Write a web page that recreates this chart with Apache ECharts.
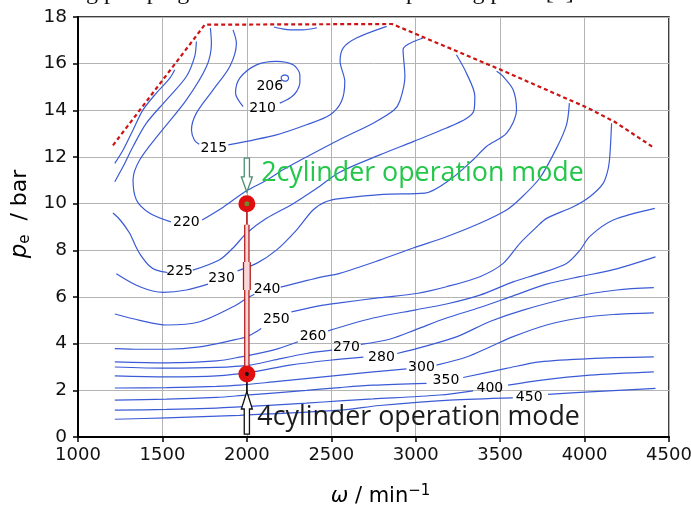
<!DOCTYPE html>
<html>
<head>
<meta charset="utf-8">
<script src="https://cdn.jsdelivr.net/npm/echarts@6/dist/echarts.min.js"></script>
<style>
  html, body { margin: 0; padding: 0; background: #fff; }
  #container { width: 691px; height: 506px; }
</style>
</head>
<body>
<div id="container"></div>
<script>
  // axes
  const xMin = 1000, xMax = 4500, xStep = 500;
  const yMin = 0, yMax = 18, yStep = 2;

  // contour lines (speed, pe) - split where the value label sits
  const c206Arc = [[2160,17.57],[2210,17.49],[2260,17.45],[2330,17.45],[2415,17.54]];
  const c206Loop = [[2225,15.52],[2240,15.48],[2247,15.38],[2240,15.28],[2225,15.25],[2210,15.29],[2203,15.39],[2210,15.48],[2225,15.52]];
  const c210 = [[2195,14.31],[2260,14.55],[2294,14.8],[2314,15.2],[2314,15.52],[2274,15.95],[2175,16.1],[2057,15.95],[1958,15.38],[1933,14.74],[1978,14.16]];
  const c215L = [[1918,17.45],[1938,16.88],[1899,15.88],[1800,14.88],[1701,13.88],[1672,13.16],[1690,12.72],[1718,12.55]];
  const c215R = [[1890,12.52],[2175,12.95],[2353,13.38],[2491,13.8],[2560,14.38],[2580,15.24],[2552,16.1],[2570,16.67],[2649,17.1],[2828,17.6]];
  const c220L = [[1784,17.53],[1790,16.88],[1761,15.88],[1642,14.45],[1484,13.02],[1366,11.88],[1326,11.02],[1346,10.16],[1425,9.59],[1550,9.22]];
  const c220R = [[1735,9.3],[1860,9.85],[1998,10.55],[2116,11.0],[2214,11.45],[2353,12.0],[2550,12.75],[2748,13.45],[2870,14.0],[2906,14.4],[2936,15.45],[2925,16.6],[3044,17.1]];
  const c225L = [[1207,9.6],[1250,9.3],[1306,8.73],[1340,8.2],[1366,7.85],[1420,7.35],[1464,7.15],[1530,7.05]];
  const c225R = [[1680,7.15],[1839,7.6],[1918,8.1],[1998,8.73],[2116,9.37],[2274,10.0],[2412,10.65],[2550,11.35],[2787,12.09],[2985,12.66],[3182,13.24],[3300,13.65],[3345,14.0],[3350,14.6],[3300,15.6],[3241,16.38]];
  const c230L = [[1227,7.0],[1366,6.44],[1504,6.2],[1642,6.3],[1770,6.55]];
  const c230R = [[1945,7.12],[2057,7.44],[2175,8.01],[2294,8.87],[2392,9.73],[2471,10.09],[2550,10.22],[2807,10.4],[3054,10.45],[3202,11.02],[3340,11.88],[3419,12.45],[3538,13.02],[3597,14.02],[3577,14.88],[3518,15.45],[3479,15.67]];
  const c240L = [[1218,5.27],[1366,5.0],[1524,4.8],[1721,4.94],[1918,5.58],[2007,5.98],[2045,6.12]];
  const c240R = [[2200,6.42],[2452,6.87],[2550,7.01],[2787,7.58],[2985,8.1],[3182,8.58],[3380,9.16],[3538,9.73],[3617,10.2],[3735,11.1],[3834,12.38],[3893,13.38],[3910,14.31]];
  const c250L = [[1218,3.79],[1366,3.76],[1524,3.76],[1721,3.86],[1918,4.15],[2007,4.32],[2085,4.65]];
  const c250R = [[2264,5.36],[2452,5.65],[2550,5.75],[2787,5.97],[3005,6.15],[3182,6.44],[3380,6.87],[3518,7.44],[3617,8.3],[3716,9.0],[3775,9.37],[3933,9.87],[4031,10.3],[4110,10.87],[4140,11.5],[4150,12.09],[4160,13.45]];
  const c260L = [[1218,3.22],[1524,3.18],[1820,3.26],[1956,3.42],[2155,3.72],[2303,4.08]];
  const c260R = [[2481,4.55],[2748,5.1],[3000,5.45],[3182,5.7],[3380,6.08],[3577,6.65],[3735,7.01],[3893,7.44],[3972,8.0],[4031,8.6],[4170,9.3],[4416,9.8]];
  const c270L = [[1218,3.0],[1524,2.95],[1820,2.98],[2017,3.08],[2155,3.29],[2353,3.58],[2505,3.72]];
  const c270R = [[2675,3.97],[2850,4.2],[3000,4.6],[3182,5.1],[3380,5.55],[3577,6.05],[3775,6.55],[3972,6.87],[4170,7.17],[4420,7.72]];
  const c280L = [[1218,2.62],[1524,2.58],[1820,2.62],[2036,2.79],[2254,3.08],[2490,3.29],[2690,3.42]];
  const c280R = [[2890,3.58],[3005,3.79],[3241,4.29],[3439,4.95],[3636,5.44],[3933,6.0],[4190,6.3],[4410,6.4]];
  const c300L = [[1218,2.1],[1524,2.12],[1820,2.17],[1956,2.22],[2155,2.36],[2452,2.58],[2748,2.79],[2945,2.92]];
  const c300R = [[3123,3.08],[3301,3.43],[3439,3.86],[3577,4.3],[3775,4.8],[3972,5.1],[4170,5.25],[4410,5.32]];
  const c350L = [[1218,1.58],[1524,1.62],[1820,1.7],[1956,1.77],[2353,2.0],[2550,2.12],[2748,2.22],[3064,2.3]];
  const c350R = [[3281,2.55],[3537,2.94],[3735,3.22],[4031,3.36],[4410,3.43]];
  const c400L = [[1218,1.15],[1524,1.18],[1820,1.24],[1956,1.29],[2353,1.45],[2550,1.55],[2748,1.63],[3143,1.8],[3340,1.98]];
  const c400R = [[3547,2.22],[3735,2.43],[4031,2.65],[4410,2.79]];
  const c450L = [[1218,0.76],[1524,0.82],[1956,0.93],[2550,1.15],[2787,1.35],[3202,1.58],[3575,1.68]];
  const c450R = [[3784,1.83],[4031,1.93],[4420,2.08]];
  const cEdge1 = [[1573,15.74],[1544,15.38],[1464,14.74],[1385,14.02],[1326,13.16],[1267,12.3],[1218,11.73]];
  const cEdge2 = [[1701,16.95],[1691,16.31],[1642,15.45],[1524,14.45],[1405,13.45],[1326,12.45],[1267,11.59],[1218,10.94]];

  // full load line
  const fullLoad = [[1207,12.5],[1751,17.67],[2860,17.7],[3500,15.75],[4020,14.1],[4180,13.5],[4410,12.4]];

  // contour value labels [speed, pe, text]
  const contourLabels = [
    [2136,15.02,'206'],[2093,14.09,'210'],[1804,12.38,'215'],[1642,9.18,'220'],
    [1602,7.08,'225'],[1850,6.8,'230'],[2120,6.33,'240'],[2175,5.05,'250'],
    [2392,4.32,'260'],[2590,3.84,'270'],[2797,3.41,'280'],[3034,3.0,'300'],
    [3179,2.43,'350'],[3439,2.1,'400'],[3672,1.69,'450']
  ];

  // operating points and switch
  const point2cyl = [2000, 10.0];
  const point4cyl = [2000, 2.7];
  const switchBar = [[2000,2.7],[2000,9.1]];
  const switchBarWide = [[2000,6.3],[2000,7.5]];
  const switchThin = [[2000,9.1],[2000,10.0]];
  const tipLine4 = [[2000,1.9],[2000,2.5]];
  // arrows: [speed, tail pe, head base pe, tip pe]
  const arrow2cyl = [[2000,11.95,11.15,10.5]];
  const arrow4cyl = [[2000,0.12,1.2,1.95]];
  const text2cyl = [[2085,11.28,'2cylinder operation mode']];
  const text4cyl = [[2062,0.82,'4cylinder operation mode']];

  const contours = [c206Arc,c206Loop,c210,c215L,c215R,c220L,c220R,c225L,c225R,c230L,c230R,
    c240L,c240R,c250L,c250R,c260L,c260R,c270L,c270R,c280L,c280R,c300L,c300R,
    c350L,c350R,c400L,c400R,c450L,c450R,cEdge1,cEdge2];

  let myChart = echarts.init(document.getElementById('container'));

  function arrowRender(stroke) {
    return function (params, api) {
      let x = api.value(0);
      let pT = api.coord([x, api.value(1)]);
      let pB = api.coord([x, api.value(2)]);
      let pH = api.coord([x, api.value(3)]);
      let w = 2.6, h = 5.5;
      return {
        type: 'polygon',
        shape: {
          points: [[pT[0]-w,pT[1]],[pB[0]-w,pB[1]],[pB[0]-h,pB[1]],[pH[0],pH[1]],
                   [pB[0]+h,pB[1]],[pB[0]+w,pB[1]],[pT[0]+w,pT[1]]]
        },
        style: { fill: '#fff', stroke: stroke, lineWidth: 1.3 }
      };
    };
  }

  let series = [];
  contours.forEach(function (c) {
    series.push({
      type: 'line', data: c, symbol: 'none', smooth: 0.3, silent: true, z: 2,
      lineStyle: { color: '#3b5bd6', width: 1.2 }
    });
  });
  series.push({
    type: 'line', data: fullLoad, symbol: 'none', silent: true, z: 3,
    lineStyle: { color: '#cc1414', width: 2.2, type: [4, 3] }
  });
  series.push({
    type: 'scatter', data: contourLabels, symbolSize: 0, silent: true, z: 4,
    itemStyle: { opacity: 1 },
    label: {
      show: true, position: 'inside', color: '#000',
      fontFamily: 'DejaVu Sans', fontSize: 14,
      formatter: function (p) { return p.data[2]; }
    }
  });
  // switching bar between the two operating points
  series.push({ type: 'line', data: switchThin, symbol: 'none', silent: true, z: 5,
    lineStyle: { color: '#b01818', width: 1.5 } });
  series.push({ type: 'line', data: switchBar, symbol: 'none', silent: true, z: 5,
    lineStyle: { color: '#b01818', width: 5.5 } });
  series.push({ type: 'line', data: switchBarWide, symbol: 'none', silent: true, z: 5,
    lineStyle: { color: '#b01818', width: 8 } });
  series.push({ type: 'line', data: switchBar, symbol: 'none', silent: true, z: 6,
    lineStyle: { color: '#f6d6d6', width: 3 } });
  series.push({ type: 'line', data: switchBarWide, symbol: 'none', silent: true, z: 6,
    lineStyle: { color: '#f6d6d6', width: 5.5 } });
  series.push({ type: 'line', data: tipLine4, symbol: 'none', silent: true, z: 6,
    lineStyle: { color: '#000', width: 1.5 } });
  series.push({ type: 'custom', data: arrow2cyl, renderItem: arrowRender('#4e8f73'), silent: true, z: 7 });
  series.push({ type: 'custom', data: arrow4cyl, renderItem: arrowRender('#111'), silent: true, z: 7 });
  series.push({ type: 'scatter', data: [point2cyl, point4cyl], symbolSize: 17, silent: true, z: 8,
    itemStyle: { color: '#e00e0e', opacity: 1 } });
  series.push({ type: 'scatter', data: [point2cyl], symbolSize: 5, silent: true, z: 9,
    itemStyle: { color: '#6f8a2c', opacity: 1 } });
  series.push({ type: 'scatter', data: [point4cyl], symbolSize: 4, silent: true, z: 9,
    itemStyle: { color: '#111', opacity: 1 } });
  series.push({
    type: 'scatter', data: text2cyl, symbolSize: 0, silent: true, z: 10,
    itemStyle: { opacity: 1 },
    label: { show: true, position: 'right', distance: 0, color: '#22c74a',
      fontFamily: 'Open Sans', fontSize: 26.8,
      formatter: function (p) { return p.data[2]; } }
  });
  series.push({
    type: 'scatter', data: text4cyl, symbolSize: 0, silent: true, z: 10,
    itemStyle: { opacity: 1 },
    label: { show: true, position: 'right', distance: 0, color: '#1c1c1c',
      fontFamily: 'Open Sans', fontSize: 26.8,
      formatter: function (p) { return p.data[2]; } }
  });

  let option = {
    animation: false,
    backgroundColor: '#fff',
    grid: { left: 78, right: 22, top: 17, bottom: 69, show: true, outerBoundsMode: 'none',
      borderColor: '#000', borderWidth: 1.5 },
    graphic: [{
      type: 'text', left: 14, top: -19, silent: true,
      style: { text: 'reducing pumping loss and achieve the operating point [1] as follows:',
        font: '24px "Liberation Serif"', fill: '#111' }
    }],
    xAxis: {
      type: 'value', min: xMin, max: xMax, interval: xStep,
      name: '{it|ω} / min{sup|−1}', nameLocation: 'middle', nameGap: 47,
      nameTextStyle: { fontFamily: 'DejaVu Sans', fontSize: 21, color: '#000', padding: [0, 0, 0, 14],
        rich: {
          it: { fontFamily: 'DejaVu Sans', fontSize: 21, fontStyle: 'italic', color: '#000' },
          sup: { fontFamily: 'DejaVu Sans', fontSize: 15, verticalAlign: 'top', color: '#000', padding: [0, 0, 10, 0] }
        } },
      axisLine: { lineStyle: { color: '#000', width: 2 } },
      axisTick: { length: 5, lineStyle: { color: '#000', width: 1.5 } },
      axisLabel: { fontFamily: 'DejaVu Sans', fontSize: 18, color: '#111', margin: 9,
        formatter: function (v) { return String(v); } },
      splitLine: { lineStyle: { color: '#b4b4b4', width: 1 } }
    },
    yAxis: {
      type: 'value', min: yMin, max: yMax, interval: yStep,
      name: '{it|p}{sub|e}  / bar', nameLocation: 'middle', nameGap: 38, nameRotate: 90,
      nameTextStyle: { fontFamily: 'DejaVu Sans', fontSize: 22, color: '#000', padding: [0, 0, 0, 26],
        rich: {
          it: { fontFamily: 'DejaVu Sans', fontSize: 23, fontStyle: 'italic', color: '#000' },
          sub: { fontFamily: 'DejaVu Sans', fontSize: 15, verticalAlign: 'bottom', color: '#000', padding: [10, 0, 0, 0] }
        } },
      axisLine: { lineStyle: { color: '#000', width: 2 } },
      axisTick: { length: 5, lineStyle: { color: '#000', width: 1.5 } },
      axisLabel: { fontFamily: 'DejaVu Sans', fontSize: 18.5, color: '#111', margin: 11 },
      splitLine: { lineStyle: { color: '#b4b4b4', width: 1 } }
    },
    series: series
  };
  myChart.setOption(option, true);
</script>
</body>
</html>
